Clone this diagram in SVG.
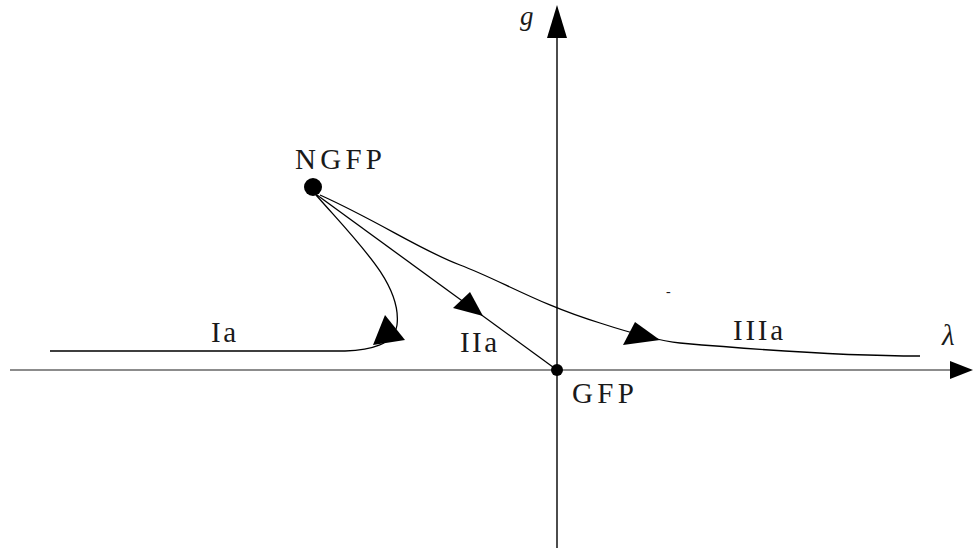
<svg xmlns="http://www.w3.org/2000/svg" width="973" height="551" viewBox="0 0 973 551">
<style>
.lbl{font-family:"Liberation Serif","DejaVu Serif",serif;font-size:29px;fill:#1a1a1a}
.it{font-style:italic}
.c{fill:none;stroke:#000;stroke-width:1.3}
.ah{fill:#000;stroke:none}
</style>
<rect width="973" height="551" fill="#fff"/>
<g id="axes">
<line x1="10" y1="370" x2="952" y2="370" stroke="#666" stroke-width="1.6"/>
<polygon class="ah" points="973,370 950,361 950,379"/>
<line x1="557" y1="548" x2="557" y2="36" stroke="#000" stroke-width="1.4"/>
<polygon class="ah" points="557,5 547,38 567,38"/>
<text class="lbl it" x="520" y="25" style="font-size:27px">g</text>
<text class="lbl it" x="942" y="345">λ</text>
</g>
<g id="connectors">
<path class="c" d="M316,195 C360,245 402,285 397,325 C394,345 370,350 345,351 L50,351"/>
<polygon class="ah" points="385,315 405,340 373,345"/>
<line class="c" x1="317" y1="195" x2="557" y2="370"/>
<polygon class="ah" points="470,292 453,308 483,316"/>
<path class="c" d="M320,195 C380,222 420,250 460,265 C500,280 540,305 600,323 C640,336 660,341 680,343 C760,350 840,356 920,356"/>
<polygon class="ah" points="635,322 623,345 660,340"/>
</g>
<g id="NGFP">
<circle cx="313" cy="187" r="9" fill="#000"/>
<text class="lbl" x="295" y="169" textLength="87">NGFP</text>
</g>
<g id="GFP">
<circle cx="557" cy="370" r="6" fill="#000"/>
<text class="lbl" x="572" y="403" textLength="62">GFP</text>
</g>
<g id="labels">
<text class="lbl" x="211" y="342" textLength="25">Ia</text>
<text class="lbl" x="460" y="352" textLength="37">IIa</text>
<text class="lbl" x="733" y="340" textLength="50">IIIa</text>
<text class="lbl" x="666" y="296" style="font-size:14px">-</text>
</g>
</svg>
